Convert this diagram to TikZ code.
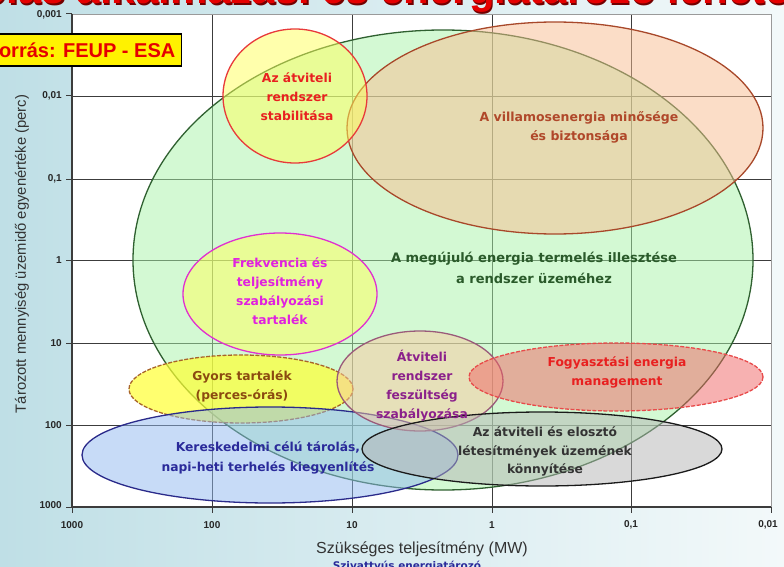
\documentclass[tikz,border=0pt]{standalone}
\usepackage{fontspec}
\setmainfont{DejaVu Sans}
\newfontfamily\axisfont{Liberation Sans}
\usetikzlibrary{shapes.geometric}

\definecolor{bgL}{HTML}{BFDFE6}
\definecolor{bgR}{HTML}{F3F9FA}
\definecolor{gridc}{HTML}{3C3C3C}
\definecolor{framec}{HTML}{9A9A9A}
% ellipse fills (drawn at half opacity) and outlines
\definecolor{greenF}{HTML}{A9F5A9}  \definecolor{greenD}{HTML}{2F6030}
\definecolor{orangeF}{HTML}{F9BD91} \definecolor{orangeD}{HTML}{A8482A}
\definecolor{paleY}{HTML}{FFFF5A}   \definecolor{redD}{HTML}{E83A3A}
\definecolor{magD}{HTML}{E030D0}
\definecolor{gyorsF}{HTML}{FFFF33}  \definecolor{gyorsD}{HTML}{A8642A}
\definecolor{blueF}{HTML}{91B9F1}   \definecolor{blueD}{HTML}{2A2A8A}
\definecolor{purpF}{HTML}{FAC8A0}   \definecolor{purpD}{HTML}{9A5A7A}
\definecolor{salmF}{HTML}{F06464}   \definecolor{salmD}{HTML}{E84A4A}
\definecolor{grayF}{HTML}{B4B4B4}   \definecolor{grayD}{HTML}{1A1A1A}
% label colours
\definecolor{tRed}{HTML}{E82020}
\definecolor{tBrown}{HTML}{B0482A}
\definecolor{tGreen}{HTML}{2A5A2A}
\definecolor{tMag}{HTML}{E020E0}
\definecolor{tGyors}{HTML}{8B4A10}
\definecolor{tNavy}{HTML}{2A2A9A}
\definecolor{tPurp}{HTML}{8B208B}
\definecolor{tGray}{HTML}{333333}

\begin{document}
\begin{tikzpicture}[x=1pt,y=-1pt,
  blob/.style={ellipse, draw, line width=1.3pt, fill opacity=0.5, inner sep=0pt, outer sep=0pt},
  lbl/.style={font=\bfseries\fontsize{12.3}{19}\selectfont, align=center, inner sep=0pt},
  ytick/.style={font=\axisfont\bfseries\fontsize{10}{12}\selectfont, text=black!85, anchor=east, inner sep=0pt},
  xtick/.style={font=\axisfont\bfseries\fontsize{10}{12}\selectfont, text=black!85, anchor=center, inner sep=0pt},
  gridline/.style={draw=gridc, line width=0.9pt},
  titlefont/.style={font=\axisfont\bfseries\fontsize{42}{44}\selectfont, anchor=base},
]
\useasboundingbox (0,0) rectangle (784,567);
\begin{scope}
\clip (0,0) rectangle (784,567);

% slide background
\shade[left color=bgL, right color=bgR] (0,0) rectangle (784,567);

% slide title, only its lower part lies on the page
\node[titlefont, text=red!45!black] (titleshadow) at (393.5,5.5)
  {A tárolás alkalmazási és energiatározó lehetőségei};
\node[titlefont, text=red!90!black] (title) at (392,4)
  {A tárolás alkalmazási és energiatározó lehetőségei};

% plot area
\fill[white] (72,14) rectangle (771,507);
\foreach \gx in {212,352,492,631} \draw[gridline] (\gx,14) -- (\gx,507);
\foreach \gy in {96,179,260,343,425} \draw[gridline] (72,\gy) -- (771,\gy);
\draw[framec, line width=0.9pt] (72,14) -- (771,14) -- (771,507);
\draw[gridc, line width=1.1pt] (72,14) -- (72,507) -- (771,507);
\foreach \gy in {14,96,179,260,343,425,507} \draw[gridc, line width=1pt] (66,\gy) -- (72,\gy);
\foreach \gx in {72,212,352,492,631,771} \draw[gridc, line width=1pt] (\gx,507) -- (\gx,513);

% tick labels
\node[ytick] (y0) at (62,15) {0,001};
\node[ytick] (y1) at (62,96) {0,01};
\node[ytick] (y2) at (62,179) {0,1};
\node[ytick] (y3) at (62,260) {1};
\node[ytick] (y4) at (62,343) {10};
\node[ytick] (y5) at (62,425) {100};
\node[ytick] (y6) at (62,505) {1000};
\node[xtick] (x0) at (72,525) {1000};
\node[xtick] (x1) at (212,525) {100};
\node[xtick] (x2) at (352,525) {10};
\node[xtick] (x3) at (492,525) {1};
\node[xtick] (x4) at (631,525) {0,1};
\node[xtick] (x5) at (768,525) {0,01};

% axis titles
\node[font=\axisfont\fontsize{14.8}{16}\selectfont, text=black!80, rotate=90] (ytitle) at (22,254)
  {Tározott mennyiség üzemidő egyenértéke (perc)};
\node[font=\axisfont\fontsize{16}{18}\selectfont, text=black!80] (xtitle) at (422,549)
  {Szükséges teljesítmény (MW)};
\node[font=\bfseries\fontsize{10.5}{12}\selectfont, text=tNavy, anchor=base] (pumped) at (407,569)
  {Szivattyús energiatározó};

% application areas
\node[blob, fill=greenF, draw=greenD, minimum width=620pt, minimum height=460pt] (renew) at (443,260) {};
\node[blob, fill=orangeF, draw=orangeD, minimum width=416pt, minimum height=212pt] (quality) at (555,128) {};
\node[blob, fill=paleY, draw=redD, minimum width=144pt, minimum height=134pt] (stab) at (295,96) {};
\node[blob, fill=paleY, draw=magD, minimum width=194pt, minimum height=122pt] (freq) at (280,294) {};
\node[blob, fill=gyorsF, fill opacity=0.7, draw=gyorsD, dash pattern=on 4pt off 1.5pt, minimum width=224pt, minimum height=68pt] (fast) at (241,389) {};
\node[blob, fill=blueF, draw=blueD, minimum width=376pt, minimum height=96pt] (trade) at (270,455) {};
\node[blob, fill=purpF, draw=purpD, minimum width=166pt, minimum height=100pt] (volt) at (420,381) {};
\node[blob, fill=salmF, draw=salmD, dash pattern=on 4pt off 1.5pt, minimum width=294pt, minimum height=68pt] (demand) at (616,377) {};
\node[blob, fill=grayF, draw=grayD, minimum width=360pt, minimum height=74pt] (grid) at (542,449) {};

% area labels
\node[lbl, font=\bfseries\fontsize{13}{21}\selectfont, text=tGreen] (renewT) at (534,267.5)
  {A megújuló energia termelés illesztése\\a rendszer üzeméhez};
\node[lbl, font=\bfseries\fontsize{12.5}{19}\selectfont, text=tBrown] (qualityT) at (579,127.5)
  {A villamosenergia minősége\\és biztonsága};
\node[lbl, text=tRed] (stabT) at (297,97) {Az átviteli\\rendszer\\stabilitása};
\node[lbl, text=tMag] (freqT) at (280,291.5) {Frekvencia és\\teljesítmény\\szabályozási\\tartalék};
\node[lbl, text=tGyors] (fastT) at (242,386.5) {Gyors tartalék\\(perces-órás)};
\node[lbl, font=\bfseries\fontsize{12.3}{20}\selectfont, text=tNavy] (tradeT) at (268,458)
  {Kereskedelmi célú tárolás,\\napi-heti terhelés kiegyenlítés};
\node[lbl, text=tPurp] (voltT) at (422,386) {Átviteli\\rendszer\\feszültség\\szabályozása};
\node[lbl, text=tRed] (demandT) at (617,372.5) {Fogyasztási energia\\management};
\node[lbl, font=\bfseries\fontsize{12.3}{18.5}\selectfont, text=tGray] (gridT) at (545,451.5)
  {Az átviteli és elosztó\\létesítmények üzemének\\könnyítése};

% source box
\node[draw=black, line width=1.3pt, fill=yellow, text=red!90!black, font=\axisfont\bfseries\fontsize{20}{22}\selectfont,
      anchor=east, minimum height=32pt, inner xsep=6pt, inner ysep=0pt] (source) at (182,50) {Forrás: FEUP - ESA};
\end{scope}
\end{tikzpicture}
\end{document}
